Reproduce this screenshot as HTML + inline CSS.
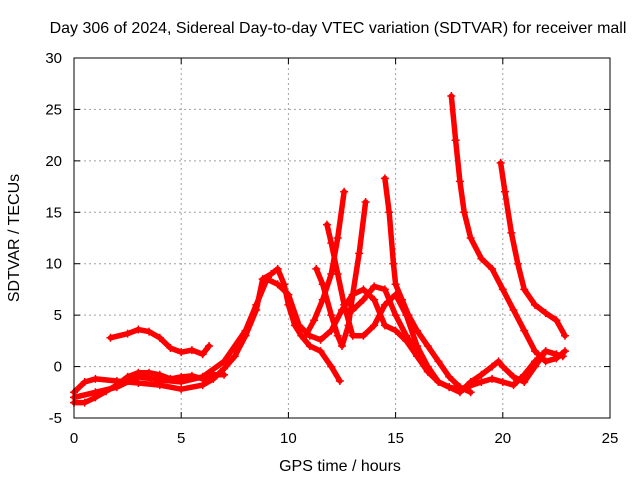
<!DOCTYPE html>
<html><head><meta charset="utf-8">
<style>
html,body{margin:0;padding:0;background:#fff;}
svg{display:block;font-family:"Liberation Sans",sans-serif;}
</style></head>
<body>
<svg id="chart" width="640" height="480">
<rect width="640" height="480" fill="#fff"/>
<text x="338" y="33" font-size="16" text-anchor="middle">Day 306 of 2024, Sidereal Day-to-day VTEC variation (SDTVAR) for receiver mall</text>
<text x="340" y="471" font-size="16" text-anchor="middle">GPS time / hours</text>
<text transform="translate(19,238) rotate(-90)" font-size="16" text-anchor="middle">SDTVAR / TECUs</text>
<g id="grid"></g>
<g id="ticks"></g>
<g id="series"></g>
<rect x="74" y="58" width="536" height="360" fill="none" stroke="#000" stroke-width="1"/>
</svg>
<script>
const xTicks=[0,5,10,15,20,25];
const yTicks=[-5,0,5,10,15,20,25,30];
const trackA=[[1.7,2.8],[2.5,3.2],[3,3.6],[3.5,3.4],[4,2.8],[4.5,1.8],[5,1.4],[5.5,1.6],[6,1.2],[6.3,2.0]];
const trackB=[[0,-3.5],[0.5,-3.5],[1,-3],[1.5,-2.4],[2,-1.8],[2.5,-1],[3,-0.6],[3.5,-0.6],[4,-0.8],[4.5,-1.2],[5,-1],[5.5,-0.9],[6,-1.2],[6.5,-0.8],[7,-0.8]];
const trackC=[[0,-2.5],[0.5,-1.5],[1,-1.2],[2,-1.4],[3,-1.6],[4,-1.8],[5,-2.2],[6,-1.8],[6.5,-1.2],[7,-0.2],[7.5,1],[8,3],[8.5,5.5],[8.8,8.5],[9.2,9],[9.5,9.5],[9.8,8],[10,6],[10.3,4],[10.6,3],[11,2],[11.5,1.5],[12,0],[12.4,-1.4]];
const trackD=[[0,-3],[1,-2.5],[2,-2],[3,-1],[4,-1.3],[5,-1.5],[6,-1],[7,0.5],[8,3.5],[8.5,6],[9,8.5],[9.5,8],[10,7],[10.5,4],[11,3],[11.5,2.6],[12,3.5],[12.5,5.5],[13,7],[13.5,7.5],[14,6.5],[14.5,4],[15,3.5],[15.5,2.5],[16,1],[16.5,-0.5],[17,-1.5],[17.5,-2],[18,-2.5],[18.5,-1.5],[19,-0.8],[19.5,0],[19.8,0.5],[20,0],[20.5,-1],[21,-1.5],[21.5,0],[22,1.5],[22.8,1]];
const trackE=[[11.8,13.8],[12,12],[12.3,9],[12.6,6],[13,3],[13.5,3],[14,4],[14.5,6],[15,7],[15.5,5],[16,2],[16.5,0],[17,-1.5],[17.5,-2],[18,-2.2],[19,-1.5],[19.5,-1.2],[20,-1.5],[20.5,-1.8],[21,-0.8],[21.5,0.5],[22,1.5],[22.5,1.2]];
const trackF=[[11.3,9.5],[11.6,8],[12,5],[12.3,3],[12.5,2],[12.8,4],[13,7],[13.3,11],[13.6,16]];
const trackG=[[10.8,3],[11.2,4.5],[11.6,6.5],[12,9],[12.3,12.5],[12.6,17]];
const trackH=[[14.5,18.3],[14.7,15],[14.9,10],[15,8],[15.3,6.5],[15.6,5],[16,3.5],[16.5,2],[17,0.5],[17.5,-1],[18,-2],[18.5,-2.5]];
const trackI=[[17.6,26.3],[17.8,22],[18,18],[18.2,15],[18.5,12.5],[19,10.5],[19.5,9.5],[20,7.5],[20.5,5.5],[21,3.5],[21.5,1.5],[22,0.5],[22.5,0.8],[22.9,1.5]];
const trackJ=[[19.9,19.8],[20.1,17],[20.4,13],[20.7,10],[21,7.5],[21.5,6],[22,5.2],[22.5,4.5],[22.9,3]];
const trackK=[[13,5.5],[13.5,6.5],[14,7.8],[14.5,7.5],[15,5],[15.5,3],[16,1.5]];
const tracks=[trackA,trackB,trackC,trackD,trackE,trackF,trackG,trackH,trackI,trackJ,trackK];

const X0=74,X1=610,Y0=418,Y1=58;
const sx=v=>X0+(v-0)/(25-0)*(X1-X0);
const sy=v=>Y0-(v+5)/(35)*(Y0-Y1);
const NS="http://www.w3.org/2000/svg";
const grid=document.getElementById('grid'),ticks=document.getElementById('ticks'),series=document.getElementById('series');
function mk(tag,attrs,parent){const e=document.createElementNS(NS,tag);for(const k in attrs)e.setAttribute(k,attrs[k]);parent.appendChild(e);return e;}
xTicks.forEach(t=>{
  const x=sx(t);
  if(t>0&&t<25){const g=mk('line',{x1:x,x2:x,y1:Y1,y2:Y0,stroke:'#a0a0a0','stroke-dasharray':'2,3'},grid);
  
  }
  const l=mk('text',{x:x,y:Y0+25,'font-size':15,'text-anchor':'middle'},ticks);l.textContent=t;
  
  
  mk('line',{x1:x,x2:x,y1:Y0,y2:Y0-6,stroke:'#000'},ticks);
  mk('line',{x1:x,x2:x,y1:Y1,y2:Y1+6,stroke:'#000'},ticks);
});
yTicks.forEach(t=>{
  const y=sy(t);
  if(t>-5&&t<30){const g=mk('line',{x1:X0,x2:X1,y1:y,y2:y,stroke:'#a0a0a0','stroke-dasharray':'2,3'},grid);
  
  }
  const l=mk('text',{x:X0-12,y:y+5,'font-size':15,'text-anchor':'end'},ticks);l.textContent=t;
  
  
  mk('line',{x1:X0,x2:X0+6,y1:y,y2:y,stroke:'#000'},ticks);
  mk('line',{x1:X1,x2:X1-6,y1:y,y2:y,stroke:'#000'},ticks);
});
tracks.forEach((tr,i)=>{
  const pl=mk('polyline',{points:tr.map(p=>sx(p[0])+','+sy(p[1])).join(' '),fill:'none',stroke:'#ff0000','stroke-width':5.5,'stroke-linejoin':'round','stroke-linecap':'round'},series);
  
  
  tr.forEach(p=>{
    const x=sx(p[0]),y=sy(p[1]);
    const m=mk('path',{d:`M${x-4},${y}H${x+4}M${x},${y-4}V${y+4}`,stroke:'#ff0000','stroke-width':1.5},series);
    
    
  });
});
</script>
</body></html>
